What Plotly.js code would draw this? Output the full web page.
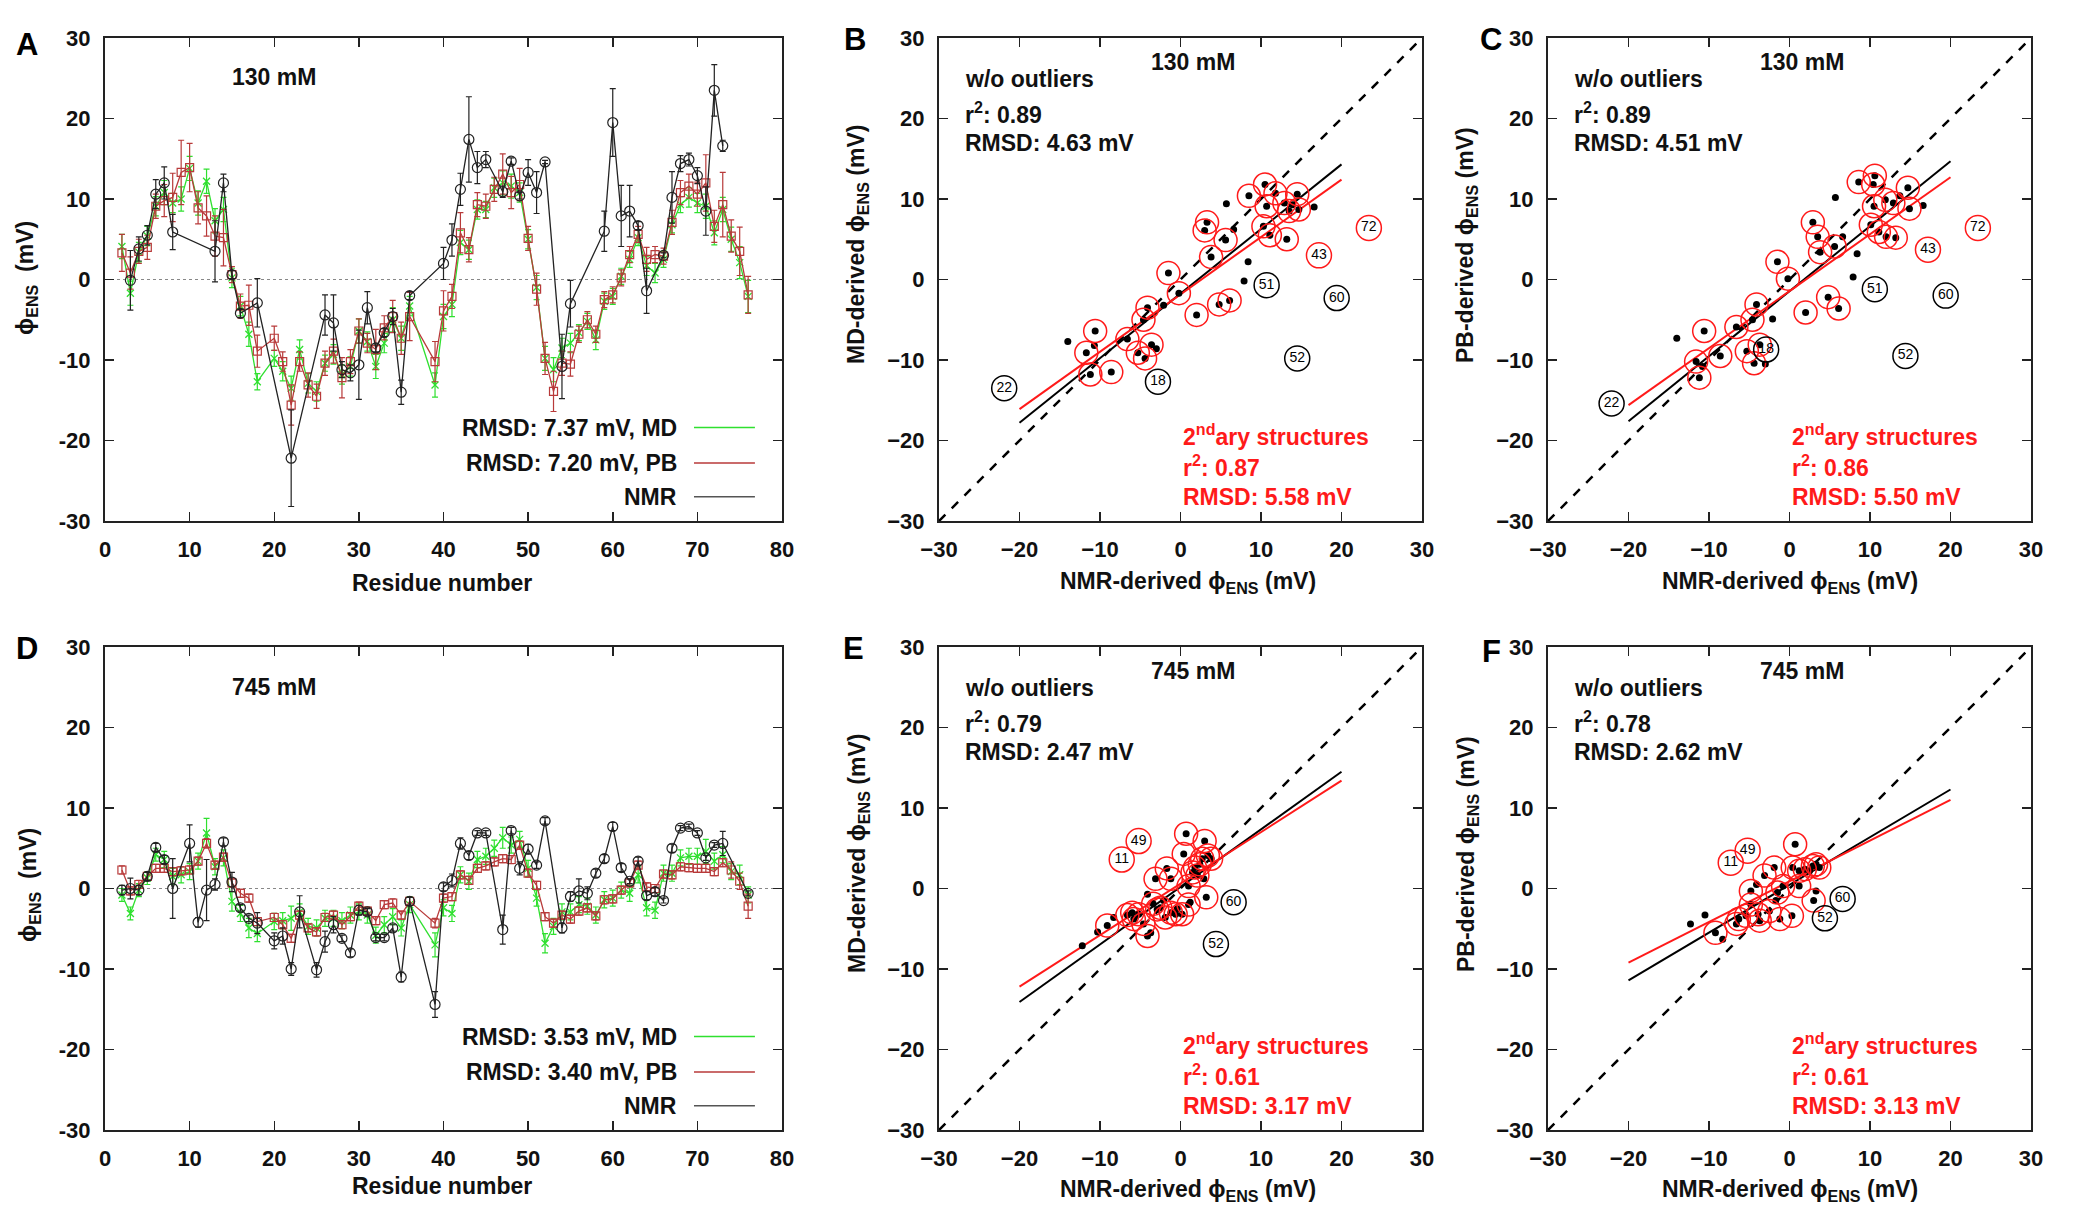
<!DOCTYPE html>
<html><head><meta charset="utf-8">
<script src="https://cdn.plot.ly/plotly-3.0.1.min.js"></script>
<style>html,body{margin:0;padding:0;background:#fff}</style>
</head><body><div id="chart" style="width:2074px;height:1224px"></div>
<script>
// ---------- Residue-wise data (panels A and D) ----------
const resCalc = [2,3,4,5,6,7,8,9,10,11,12,13,14,15,16,17,18,20,21,22,23,24,25,26,27,28,29,30,31,32,33,34,35,36,39,40,41,42,43,44,45,46,47,48,49,50,51,52,53,54,55,56,57,58,59,60,61,62,63,64,65,66,67,68,69,70,71,72,73,74,75,76];

const mdA = [4.1,-1.7,3.4,5.4,9.1,10.8,9.5,10.0,13.8,9.5,12.2,7.3,8.7,0.2,-3.3,-6.8,-12.7,
  -9.8,-11.4,-13.5,-8.7,-12.9,-13.9,-10.4,-9.3,-11.8,-10.8,-6.4,-7.7,-10.8,-7.9,-5.0,-7.3,-3.3,
  -13.1,-4.6,-3.1,4.6,3.7,8.7,8.7,11.4,12.0,11.6,10.8,5.0,-1.0,-9.8,-11.2,-8.5,-7.9,-6.6,-5.2,-7.5,-2.7,-2.1,0.4,2.5,5.2,1.7,0.8,2.5,6.8,9.3,10.2,9.5,9.1,5.8,8.7,5.0,2.1,-2.1];
const mdAErr = [1.5,1.5,1.2,1.2,1.2,1.5,1.2,1.5,1.5,1.5,1.5,1.5,1.5,1.2,1.2,1.5,1.0,
  1.0,1.2,1.5,1.2,1.2,1.2,1.0,1.2,1.2,1.2,1.5,1.2,1.5,1.2,1.5,1.5,1.2,
  1.5,1.5,1.5,1.5,1.2,1.2,1.0,1.2,1.5,1.5,1.2,1.2,1.5,1.5,1.5,1.2,1.2,1.0,1.0,1.2,1.0,1.0,1.0,1.0,1.0,1.2,1.2,1.0,1.0,1.0,1.2,1.2,1.5,1.5,1.5,1.5,2.0,2.0];
const pbA = [3.3,0.8,3.5,4.0,9.1,9.8,10.2,13.3,13.9,8.9,7.9,5.4,5.2,0.6,-3.3,-3.2,-8.9,
  -7.3,-10.2,-15.6,-10.2,-13.1,-14.5,-10.4,-8.9,-12.2,-10.2,-6.4,-7.9,-8.7,-6.0,-4.6,-7.3,-4.6,
  -10.2,-3.9,-2.1,5.8,3.7,9.3,9.1,11.2,13.1,10.8,11.8,5.1,-1.2,-9.8,-13.9,-10.4,-10.5,-6.8,-5.0,-6.8,-2.5,-1.9,0.2,3.1,5.6,2.5,3.1,2.9,7.1,10.8,11.6,10.6,12.0,6.6,9.3,5.4,3.5,-1.9];
const pbAErr = [2.3,2.0,1.5,1.5,1.5,2.0,3.0,4.0,3.0,2.0,2.5,2.5,3.5,1.0,1.5,2.5,2.0,
  1.5,1.2,2.5,1.2,1.5,1.5,1.5,1.5,2.5,1.5,1.5,1.2,2.5,1.5,2.0,2.0,3.0,
  2.5,2.5,1.5,2.5,1.5,1.5,1.5,1.5,2.5,2.0,2.0,1.5,2.0,2.0,2.5,1.5,1.5,1.0,1.0,1.0,1.0,1.0,1.0,1.0,1.0,1.5,1.0,1.0,1.5,1.5,1.5,1.5,3.5,2.0,4.0,2.0,3.0,2.3];

const nmrResA = [3,4,5,6,7,8,13,14,15,16,18,22,26,27,28,29,30,31,32,33,34,35,36,40,41,42,43,44,45,47,48,49,50,51,52,54,55,59,60,61,62,63,64,66,67,68,69,70,71,72,73];
const nmrA = [-0.1,3.8,5.5,10.6,12.0,5.9,3.5,12.0,0.6,-4.2,-2.9,-22.2,-4.4,-5.4,-11.2,-11.6,-10.6,-3.5,-8.5,-6.6,-4.6,-14.0,-2.0,2.0,4.9,11.2,17.4,13.9,14.9,10.9,14.7,10.4,13.3,10.8,14.6,-10.8,-3.0,6.0,19.5,7.9,8.5,6.7,-1.4,3.0,10.2,14.4,14.9,12.9,8.5,23.5,16.6];
const nmrAErr = [3.7,1.5,1.2,1.8,2.0,2.2,3.8,1.1,0.5,0.5,3.0,6.0,2.5,3.5,1.0,1.0,4.3,2.0,0.5,0.5,1.0,1.5,0.5,2.0,2.0,2.0,5.3,2.0,1.0,0.7,0.4,0.4,1.6,2.6,0.2,4.0,2.9,2.5,4.2,3.8,3.2,0.5,2.8,0.3,3.2,1.0,0.8,1.0,3.0,3.2,0.7];

const mdD = [-0.8,-3.1,-0.2,1.3,4.2,3.6,1.5,1.7,2.1,3.4,6.9,2.7,3.8,-1.6,-3.1,-4.9,-5.6,
  -4.1,-4.0,-3.7,-2.9,-4.7,-4.9,-3.7,-3.7,-4.0,-3.3,-2.9,-3.3,-5.8,-4.5,-3.5,-4.9,-2.0,
  -7.0,-2.4,-3.1,1.7,0.9,3.6,4.0,5.0,6.3,5.4,6.1,2.5,-1.2,-6.8,-4.7,-2.9,-2.9,-2.0,-2.2,-3.3,-1.4,-1.2,-0.2,-0.6,1.7,-2.4,-2.7,1.9,1.9,3.8,4.0,4.0,4.6,3.4,4.2,2.1,1.7,-0.8];
const mdDErr = [0.8,0.8,0.8,0.8,0.8,1.0,1.0,1.0,1.0,1.0,1.8,1.0,1.0,1.2,1.0,1.2,1.0,
  1.0,1.0,1.5,1.0,1.0,1.0,1.0,1.0,1.0,1.0,1.0,1.0,1.0,1.0,1.0,1.0,1.0,
  1.5,1.0,1.0,1.0,1.0,1.0,1.0,1.0,1.3,1.0,1.0,1.0,1.0,1.2,1.0,1.0,1.0,1.0,1.0,1.0,1.0,1.0,1.0,1.0,1.0,1.0,1.0,1.0,1.0,1.0,1.0,1.0,1.5,1.0,1.0,1.0,1.2,1.0];
const pbD = [2.3,-0.3,0.5,1.5,2.5,2.5,2.1,2.2,2.3,3.4,5.6,2.9,3.9,0.7,-0.6,-1.2,-4.1,
  -3.6,-4.5,-6.2,-3.3,-4.9,-5.4,-3.6,-3.3,-4.5,-3.5,-2.2,-2.8,-4.0,-2.0,-1.8,-3.3,-1.6,
  -4.3,-1.2,-1.0,1.7,1.0,2.5,2.8,3.3,3.7,3.6,5.4,1.9,0.4,-3.5,-4.3,-3.3,-3.8,-2.8,-2.4,-3.4,-1.4,-1.3,-0.2,0.7,2.9,0.2,0.0,1.8,1.7,2.7,2.6,2.5,2.5,2.1,3.2,2.3,0.9,-2.2];
const pbDErr = [0.5,0.5,0.5,0.5,0.5,0.5,0.5,0.5,0.5,0.5,0.6,0.5,0.5,0.5,0.5,0.5,0.5,
  0.5,0.5,0.5,0.5,0.5,0.5,0.5,0.5,0.5,0.5,0.5,0.5,0.5,0.5,0.5,0.5,0.5,
  0.6,0.5,0.5,0.5,0.5,0.5,0.5,0.5,0.5,0.5,0.5,0.5,0.5,0.5,0.5,0.5,0.5,0.5,0.5,0.5,0.5,0.5,0.5,0.5,0.5,0.5,0.5,0.5,0.5,0.5,0.5,0.5,0.5,0.5,0.5,1.0,1.0,1.5];

const nmrResD = [2,3,4,5,6,7,8,10,11,12,13,14,15,16,17,18,20,21,22,23,25,26,27,28,29,30,31,32,33,34,35,36,39,40,41,42,43,44,45,47,48,49,50,51,52,54,55,56,57,58,59,60,61,62,63,64,65,66,67,68,69,70,71,72,73,76];
const nmrD = [-0.2,0.0,-0.2,1.5,5.1,3.6,0.0,5.6,-4.2,-0.2,0.5,5.8,0.8,-2.4,-3.7,-4.3,-6.5,-5.9,-10.0,-2.9,-10.1,-6.6,-4.5,-6.2,-8.0,-2.7,-2.9,-6.1,-6.1,-4.9,-11.0,-1.6,-14.4,0.2,1.0,5.6,4.1,6.9,6.9,-5.1,7.2,2.5,4.9,2.9,8.4,-4.9,-1.0,-0.3,-0.6,1.9,3.7,7.7,2.6,0.9,3.4,-0.9,-0.4,-1.5,5.0,7.5,7.7,6.9,3.8,5.4,5.6,-0.6];
const nmrDErr = [0.6,1.3,0.6,0.5,0.5,0.5,3.7,2.3,0.6,3.8,0.7,0.5,1.2,0.4,0.4,1.3,1.0,1.0,0.8,2.0,0.9,1.3,1.0,0.4,0.5,0.6,0.4,0.4,0.4,0.4,0.6,0.5,1.6,0.5,0.8,0.7,0.5,0.3,0.3,1.8,0.4,0.8,0.6,0.4,0.4,0.6,0.6,1.5,0.8,0.5,0.5,0.5,0.5,0.3,0.5,0.5,0.5,0.3,0.5,0.3,0.3,0.3,0.3,0.3,1.5,0.3];

const resTicks = [0,10,20,30,40,50,60,70,80];
const phiTicks = [-30,-20,-10,0,10,20,30];
const phiTickTextA = ['-30','-20','-10','0','10','20','30'];

// ---------- Correlation data (panels B, C, E, F) ----------
const nmrB = [-14.0,-11.7,-10.6,-10.7,-11.2,-8.6,-6.6,-5.3,-4.4,-3.6,-3.0,-4.6,-4.1,-2.1,-1.5,-0.2,2.0,4.8,6.1,3.0,3.3,3.8,5.6,5.7,6.6,7.9,8.4,8.5,10.3,10.5,10.7,11.1,11.8,12.9,13.2,13.5,13.9,14.5,14.7,16.6];
const mdB  = [-7.7,-9.1,-6.4,-8.2,-11.8,-11.5,-7.4,-9.1,-9.8,-8.1,-8.6,-5.0,-3.5,-3.2,0.8,-1.7,-4.4,-3.1,-2.6,6.1,7.1,2.8,4.9,9.4,6.2,-0.2,2.2,10.4,6.6,11.8,9.1,5.5,10.7,9.5,5.0,8.5,9.3,10.6,8.7,9.0];
const ssB  = [0,1,1,0,1,1,1,1,1,1,0,1,1,0,1,1,1,1,1,1,1,1,1,0,0,0,0,1,1,1,1,1,1,1,1,1,0,1,1,0];
const outLabB = ['22','18','51','60','52','72','43'];
const outXB = [-21.9,-2.8,10.7,19.4,14.5,23.4,17.2];
const outYB = [-13.5,-12.7,-0.7,-2.3,-9.8,6.4,3.0];
const outSSB = [0,0,0,0,0,1,1];

const nmrC = [-14.0,-11.6,-11.2,-10.6,-10.8,-8.6,-6.6,-5.3,-4.4,-3.7,-3.0,-4.6,-4.1,-2.1,-1.5,-0.2,2.0,4.8,6.1,2.9,3.5,3.8,5.6,5.7,6.6,7.9,8.4,8.6,10.1,10.6,10.4,10.5,11.1,11.9,12.0,13.2,12.9,13.7,14.7,14.9,16.6];
const pbC  = [-7.3,-10.2,-12.2,-6.4,-10.8,-9.5,-5.9,-8.9,-10.4,-8.1,-10.5,-5.0,-3.1,-4.9,2.2,0.1,-4.1,-2.2,-3.6,7.1,5.3,3.4,4.1,10.2,5.3,0.3,3.2,12.1,6.8,12.9,11.8,9.1,5.9,9.9,5.3,5.2,9.5,10.4,11.4,8.8,9.2];
const ssC  = [0,1,1,1,0,1,1,1,1,1,0,1,1,0,1,1,1,1,1,1,1,1,1,0,0,0,0,1,1,1,1,1,1,1,1,1,1,0,1,1,0];
const outLabC = ['22','18','51','60','52','72','43'];
const outXC = [-22.1,-2.9,10.6,19.4,14.4,23.4,17.2];
const outYC = [-15.4,-8.7,-1.2,-2.0,-9.5,6.4,3.7];
const outSSC = [0,0,0,0,0,1,1];

const nmrE = [-12.2,-10.3,-9.1,-8.3,-6.6,-5.8,-5.2,-4.6,-4.1,-3.7,-4.1,-3.1,-2.5,-2.1,-1.7,-1.2,-1.2,-0.6,-0.4,0.2,0.4,0.7,1.0,1.2,1.5,2.1,2.7,3.0,2.9,3.4,3.8,3.2,-2.9,-1.9,1.8,2.4,-6.0,-3.4,1.0];
const mdE  = [-7.1,-5.4,-4.6,-3.6,-3.3,-3.8,-3.2,-4.4,-5.9,-5.5,-0.7,1.2,-2.4,-1.5,2.5,1.2,-3.0,-3.2,-2.5,-3.2,4.3,6.8,0.3,-1.7,2.0,1.6,3.7,5.9,1.2,4.1,3.7,-1.1,-2.6,-3.6,2.6,3.0,-3.0,-1.9,-2.0];
const ssE  = [0,0,1,0,1,1,1,1,1,0,0,1,1,0,1,1,1,1,0,1,1,1,1,0,1,1,1,1,0,1,1,1,1,1,1,1,1,1,1];
const outLabE = ['49','11','60','52'];
const outXE = [-5.2,-7.3,6.6,4.4];
const outYE = [5.9,3.6,-1.7,-6.9];
const outSSE = [1,1,0,0];

const nmrF = [-12.3,-10.5,-9.2,-8.3,-6.6,-6.3,-5.4,-4.8,-4.8,-4.1,-3.9,-3.7,-3.1,-2.5,-1.9,-1.7,-1.5,-1.2,-0.8,0.3,0.7,0.4,1.2,1.2,1.9,2.9,3.3,3.0,3.3,3.7,2.5];
const pbF  = [-4.4,-3.3,-5.5,-6.3,-4.4,-3.8,-3.4,-2.0,-0.3,0.5,-3.2,-4.0,1.6,-2.8,2.6,-1.5,-0.5,-3.8,0.3,-3.4,5.5,2.6,0.3,2.2,2.4,2.8,-0.3,-1.5,3.0,2.6,2.2];
const ssF  = [0,0,1,0,1,1,1,1,1,0,1,1,1,1,1,0,1,1,1,1,1,1,1,1,1,1,0,1,1,1,0];
const outLabF = ['49','11','60','52'];
const outXF = [-5.2,-7.3,6.6,4.4];
const outYF = [4.7,3.2,-1.3,-3.7];
const outSSF = [1,1,0,0];

// fit lines (end points)
const fitX = [-20, 20];
const fitBlackB = [-17.8, 14.3], fitRedB = [-16.1, 12.4];
const fitBlackC = [-17.6, 14.7], fitRedC = [-15.6, 12.7];
const fitBlackE = [-14.1, 14.5], fitRedE = [-12.2, 13.4];
const fitBlackF = [-11.4, 12.3], fitRedF = [-9.2, 11.0];
const diag = [-30, 30];
const corrTicks = [-30,-20,-10,0,10,20,30];

// ---------- styling ----------
const FONT = 'Liberation Sans, Arial, Helvetica, sans-serif';
const GREEN = '#2fe02f', PB = '#b83a3a', BLK = '#222222', RED = '#ff1a1a';

const W = 2074, H = 1224;
const px = v => v / W, py = v => 1 - v / H;
const colA = [px(105), px(782)], colB = [px(939), px(1422)], colC = [px(1548), px(2031)];
const rowTop = [py(521), py(38)], rowBot = [py(1130), py(647)];

function axis(domain, anchor, range, tickvals, ticktext) {
  const a = {domain, anchor, range, tickvals, showline:true, linewidth:2, linecolor:BLK,
    mirror:'ticks', ticks:'inside', ticklen:9, tickwidth:1.5, tickcolor:BLK,
    showgrid:false, zeroline:false, ticklabelstandoff:8,
    tickfont:{family:FONT, size:22, color:'#111', weight:'bold'}};
  if (ticktext) a.ticktext = ticktext;
  return a;
}

const traces = [];
function linePanel(xa, ya, md, mdErr, pb, pbErr, nres, nmr, nErr) {
  traces.push({x:resCalc, y:md, xaxis:xa, yaxis:ya, mode:'lines+markers', type:'scatter',
    line:{color:GREEN, width:1.3}, marker:{symbol:'x-thin-open', size:7, line:{color:GREEN, width:1.3}},
    error_y:{type:'data', array:mdErr, color:GREEN, thickness:1.2, width:3}});
  traces.push({x:resCalc, y:pb, xaxis:xa, yaxis:ya, mode:'lines+markers', type:'scatter',
    line:{color:PB, width:1.3}, marker:{symbol:'square-open', size:8, color:PB, line:{color:PB, width:1.2}},
    error_y:{type:'data', array:pbErr, color:PB, thickness:1.2, width:3}});
  traces.push({x:nres, y:nmr, xaxis:xa, yaxis:ya, mode:'lines+markers', type:'scatter',
    line:{color:BLK, width:1.3}, marker:{symbol:'circle-open', size:10, color:BLK, line:{color:BLK, width:1.2}},
    error_y:{type:'data', array:nErr, color:BLK, thickness:1.2, width:3}});
}
function corrPanel(xa, ya, nx, cy, ss, ox, oy, olab, oss, fb, fr) {
  traces.push({x:diag, y:diag, xaxis:xa, yaxis:ya, mode:'lines', line:{color:'#000', width:2.5, dash:'dash'}});
  traces.push({x:fitX, y:fb, xaxis:xa, yaxis:ya, mode:'lines', line:{color:'#000', width:2}});
  traces.push({x:fitX, y:fr, xaxis:xa, yaxis:ya, mode:'lines', line:{color:RED, width:2}});
  traces.push({x:nx, y:cy, xaxis:xa, yaxis:ya, mode:'markers', marker:{symbol:'circle', size:7, color:'#000'}});
  traces.push({x:nx.filter((v,i)=>ss[i]), y:cy.filter((v,i)=>ss[i]), xaxis:xa, yaxis:ya, mode:'markers',
    marker:{symbol:'circle-open', size:23, color:RED, line:{color:RED, width:1.5}}});
  traces.push({x:ox, y:oy, text:olab, xaxis:xa, yaxis:ya, mode:'markers+text', textposition:'middle center',
    textfont:{family:FONT, size:14, color:'#000'},
    marker:{symbol:'circle-open', size:25, color:oss.map(s=>s?RED:'#000'), line:{color:oss.map(s=>s?RED:'#000'), width:1.5}}});
}

linePanel('x','y', mdA, mdAErr, pbA, pbAErr, nmrResA, nmrA, nmrAErr);
corrPanel('x2','y2', nmrB, mdB, ssB, outXB, outYB, outLabB, outSSB, fitBlackB, fitRedB);
corrPanel('x3','y3', nmrC, pbC, ssC, outXC, outYC, outLabC, outSSC, fitBlackC, fitRedC);
linePanel('x4','y4', mdD, mdDErr, pbD, pbDErr, nmrResD, nmrD, nmrDErr);
corrPanel('x5','y5', nmrE, mdE, ssE, outXE, outYE, outLabE, outSSE, fitBlackE, fitRedE);
corrPanel('x6','y6', nmrF, pbF, ssF, outXF, outYF, outLabF, outSSF, fitBlackF, fitRedF);

const ann = [];
const T = (text, x, y, opts) => ann.push(Object.assign({text, x, y, showarrow:false,
  font:{family:FONT, size:23, color:'#111', weight:'bold'}}, opts||{}));

// panel letters
[['A',27,45],['B',855,40],['C',1491,40],['D',27,648],['E',853,648],['F',1491,651]].forEach(p =>
  T(p[0], px(p[1]), py(p[2]), {xref:'paper', yref:'paper', xanchor:'center', yanchor:'middle', font:{family:FONT, size:31, color:'#000', weight:'bold'}}));

// axis titles
const phi = 'ϕ<sub>ENS</sub>';
T(phi + '  (mV)', px(27), py(278), {xref:'paper', yref:'paper', textangle:-90, xanchor:'center', yanchor:'middle'});
T(phi + '  (mV)', px(29), py(885), {xref:'paper', yref:'paper', textangle:-90, xanchor:'center', yanchor:'middle'});
T('Residue number', px(442), py(583), {xref:'paper', yref:'paper', xanchor:'center', yanchor:'middle'});
T('Residue number', px(442), py(1186), {xref:'paper', yref:'paper', xanchor:'center', yanchor:'middle'});
T('MD-derived ' + phi + ' (mV)', px(858), py(245), {xref:'paper', yref:'paper', textangle:-90, xanchor:'center', yanchor:'middle'});
T('PB-derived ' + phi + ' (mV)', px(1467), py(245), {xref:'paper', yref:'paper', textangle:-90, xanchor:'center', yanchor:'middle'});
T('MD-derived ' + phi + ' (mV)', px(858), py(854), {xref:'paper', yref:'paper', textangle:-90, xanchor:'center', yanchor:'middle'});
T('PB-derived ' + phi + ' (mV)', px(1467), py(854), {xref:'paper', yref:'paper', textangle:-90, xanchor:'center', yanchor:'middle'});
[[1188,582],[1790,582],[1188,1190],[1790,1190]].forEach(p =>
  T('NMR-derived ' + phi + ' (mV)', px(p[0]), py(p[1]), {xref:'paper', yref:'paper', xanchor:'center', yanchor:'middle'}));

// concentration labels
T('130 mM', 20, 25.2, {xref:'x', yref:'y'});
T('745 mM', 20, 25.0, {xref:'x4', yref:'y4'});
[['x2','y2','130 mM'],['x3','y3','130 mM'],['x5','y5','745 mM'],['x6','y6','745 mM']].forEach(a =>
  T(a[2], 1.5, 27, {xref:a[0], yref:a[1]}));

// statistics text
const statsBlack = [['x2','y2','0.89','4.63'],['x3','y3','0.89','4.51'],['x5','y5','0.79','2.47'],['x6','y6','0.78','2.62']];
const statsRed = [['x2','y2','0.87','5.58'],['x3','y3','0.86','5.50'],['x5','y5','0.61','3.17'],['x6','y6','0.61','3.13']];
statsBlack.forEach(s => {
  T('w/o outliers', -27, 24.9, {xref:s[0], yref:s[1], xanchor:'left'});
  T('r<sup>2</sup>: ' + s[2], -27, 20.7, {xref:s[0], yref:s[1], xanchor:'left'});
  T('RMSD: ' + s[3] + ' mV', -27, 17.0, {xref:s[0], yref:s[1], xanchor:'left'});
});
statsRed.forEach(s => {
  const f = {family:FONT, size:23, color:RED, weight:'bold'};
  T('2<sup>nd</sup>ary structures', 0.1, -19.3, {xref:s[0], yref:s[1], xanchor:'left', font:f});
  T('r<sup>2</sup>: ' + s[2], 0.1, -23.2, {xref:s[0], yref:s[1], xanchor:'left', font:f});
  T('RMSD: ' + s[3] + ' mV', 0.1, -27.0, {xref:s[0], yref:s[1], xanchor:'left', font:f});
});

// legends for A and D
const shapes = [];
const legA = [['RMSD: 7.37 mV, MD', GREEN, -18.4], ['RMSD: 7.20 mV, PB', PB, -22.8], ['NMR', '#555', -27.0]];
const legD = [['RMSD: 3.53 mV, MD', GREEN, -18.4], ['RMSD: 3.40 mV, PB', PB, -22.8], ['NMR', '#555', -27.0]];
[[legA,'x','y'],[legD,'x4','y4']].forEach(L => {
  L[0].forEach(e => {
    T(e[0], 67.8, e[2], {xref:L[1], yref:L[2], xanchor:'right', yanchor:'middle'});
    shapes.push({type:'line', xref:L[1], yref:L[2], x0:69.6, x1:76.8, y0:e[2], y1:e[2], line:{color:e[1], width:1.5}});
  });
  shapes.push({type:'line', xref:L[1], yref:L[2], x0:0, x1:80, y0:0, y1:0, line:{color:'#888', width:1, dash:'dot'}, layer:'below'});
});

const layout = {
  width:W, height:H, margin:{l:0,r:0,t:0,b:0}, paper_bgcolor:'#fff', plot_bgcolor:'#fff',
  showlegend:false, font:{family:FONT},
  xaxis:  axis(colA,'y', [0,80], resTicks),
  yaxis:  axis(rowTop,'x', [-30,30], phiTicks, phiTickTextA),
  xaxis2: axis(colB,'y2', [-30,30], corrTicks),
  yaxis2: axis(rowTop,'x2', [-30,30], corrTicks),
  xaxis3: axis(colC,'y3', [-30,30], corrTicks),
  yaxis3: axis(rowTop,'x3', [-30,30], corrTicks),
  xaxis4: axis(colA,'y4', [0,80], resTicks),
  yaxis4: axis(rowBot,'x4', [-30,30], phiTicks, phiTickTextA),
  xaxis5: axis(colB,'y5', [-30,30], corrTicks),
  yaxis5: axis(rowBot,'x5', [-30,30], corrTicks),
  xaxis6: axis(colC,'y6', [-30,30], corrTicks),
  yaxis6: axis(rowBot,'x6', [-30,30], corrTicks),
  annotations: ann, shapes: shapes
};
Plotly.newPlot('chart', traces, layout, {displayModeBar:false, staticPlot:true});
</script></body></html>
